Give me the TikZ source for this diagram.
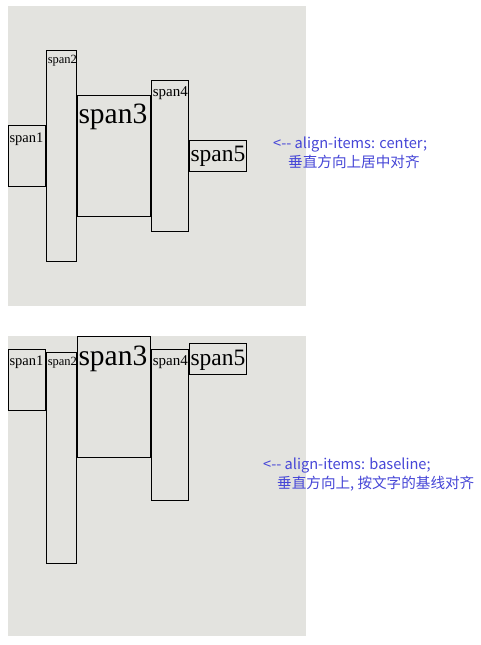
\documentclass[tikz,border=0pt]{standalone}
\usepackage{fontspec}
\setmainfont{Liberation Serif}
\newfontfamily\cjk{Noto Sans CJK SC}
\definecolor{panelgray}{RGB}{227,227,223}
\definecolor{notecolor}{RGB}{70,70,215}
\begin{document}
\begin{tikzpicture}[x=1pt,y=-1pt,
    spanbox/.style={draw=black,line width=1pt},
    spantext/.style={anchor=base west,inner sep=0pt},
    note/.style={anchor=base west,inner sep=0pt,text=notecolor,font=\cjk\fontsize{14.6}{16}\selectfont}]
  \useasboundingbox[fill=white] (0,0) rectangle (480,645);
  % align-items: center
  \begin{scope}
    \fill[panelgray] (8,6) rectangle (306,306);
    \foreach \n/\l/\t/\r/\b/\s/\y in {1/8/125.3/45.7/186.3/14.5/142, 2/46.3/50.3/76.7/261.3/12.5/63.7,
                                      3/77/95.3/150.7/216.3/29.5/123, 4/151.3/80.3/188.7/231.3/15/96,
                                      5/189/140.3/246.7/171.7/23.5/161.3}
      {\draw[spanbox] (\l,\t) rectangle (\r,\b);
       \node[spantext,font=\fontsize{\s}{\s}\selectfont] (mid\n) at (\l+1.3,\y) {span\n};}
    \node[note] (midnote) at (273,148.3) {<-{}- align-items: center;};
    \node[note] (midnotecn) at (288,167.5) {垂直方向上居中对齐};
  \end{scope}
  % align-items: baseline
  \begin{scope}
    \fill[panelgray] (8,336) rectangle (306,636);
    \foreach \n/\l/\t/\r/\b/\s in {1/8/349/45.7/410.3/14.5, 2/46.3/352.3/76.7/563.3/12.5,
                                   3/77/336.3/150.7/457.3/29.5, 4/151.3/349.3/188.7/500.3/15,
                                   5/189/343.3/246.7/374.3/23.5}
      {\draw[spanbox] (\l,\t) rectangle (\r,\b);
       \node[spantext,font=\fontsize{\s}{\s}\selectfont] (base\n) at (\l+1.3,365.3) {span\n};}
    \node[note] (basenote) at (263,469.5) {<-{}- align-items: baseline;};
    \node[note] (basenotecn) at (277,488.5) {垂直方向上, 按文字的基线对齐};
  \end{scope}
\end{tikzpicture}
\end{document}
